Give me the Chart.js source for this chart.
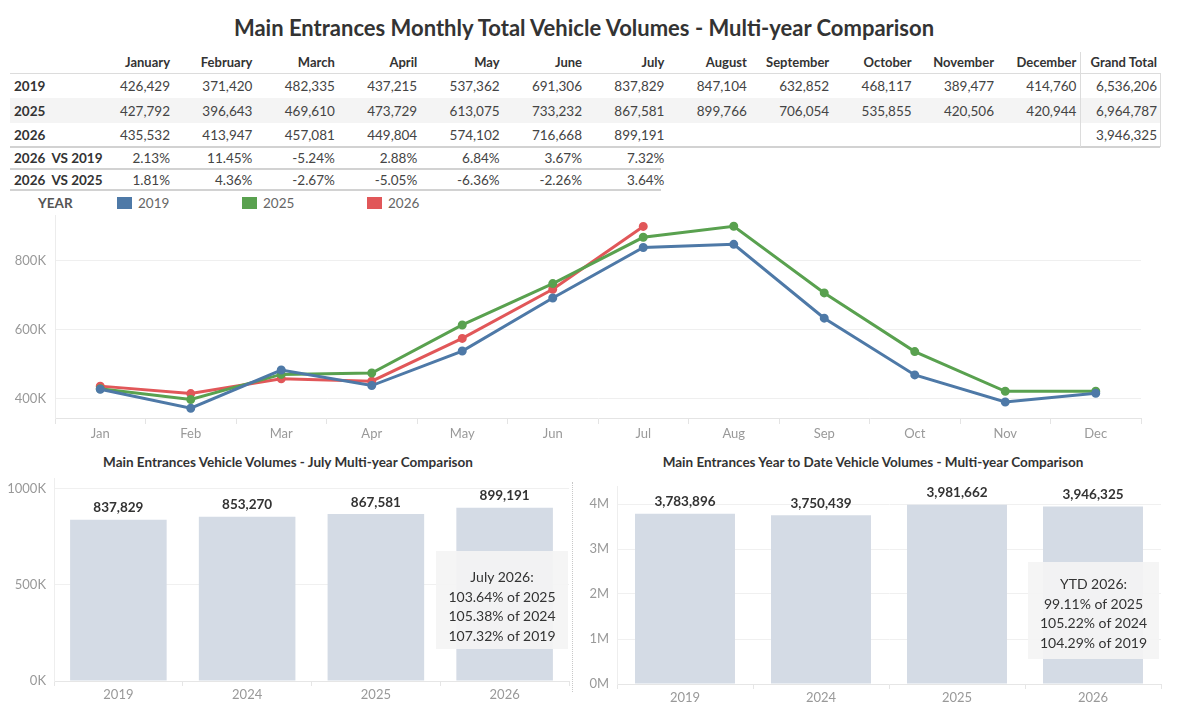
<!DOCTYPE html>
<html>
<head>
<meta charset="UTF-8">
<title>Main Entrances Vehicle Volumes</title>
<script src="https://cdn.jsdelivr.net/npm/chart.js"></script>
<style>
  *{margin:0; padding:0;}
  body{width:1200px; height:707px; background:#fff; position:relative; overflow:hidden; font-family:Lato, "Open Sans", sans-serif; color:#333;}
  .abs{position:absolute;}
  #title{position:absolute; left:0; width:1168px; top:14px; text-align:center; font-size:22px; font-weight:bold; color:#333;}
  .cell{position:absolute; white-space:nowrap; font-size:13.5px; color:#444; text-align:right; line-height:16px;}
  .hdr{font-weight:bold; color:#333; font-size:13px;}
  .rowlbl{font-weight:bold; color:#333; text-align:left;}
  .line{position:absolute; background:#ddd;}
  .legend{position:absolute; top:195px; font-size:13.5px; color:#666;}
  .sub{position:absolute; top:454px; font-size:13.5px; font-weight:bold; color:#333; text-align:center;}
  .note{position:absolute; background:rgba(244,244,244,0.92); color:#333; font-size:14px; text-align:center; line-height:19.5px;}
  canvas{position:absolute;}
</style>
</head>
<body>
<div id="title">Main Entrances Monthly Total Vehicle Volumes - Multi-year Comparison</div>
<div id="table"></div>
<div id="legend"></div>
<canvas id="lineChart" width="1150" height="253" style="left:0; top:199px;"></canvas>

<div class="sub" style="left:40px; width:496px;">Main Entrances Vehicle Volumes - July Multi-year Comparison</div>
<div class="sub" style="left:620px; width:506px;">Main Entrances Year to Date Vehicle Volumes - Multi-year Comparison</div>
<canvas id="julyChart" width="575" height="244" style="left:0; top:463px;"></canvas>
<canvas id="ytdChart" width="625" height="237" style="left:575px; top:470px;"></canvas>
<div class="abs" style="left:572px; top:482px; height:210px; border-left:1px dotted #c8c8c8;"></div>
<div class="note" id="julyNote" style="left:436px; top:551px; width:132px; height:98px; padding-top:16px; box-sizing:border-box;"></div>
<div class="note" id="ytdNote" style="left:1028px; top:562px; width:131px; height:97px; padding-top:12px; box-sizing:border-box;"></div>

<script>
const months = ['Jan','Feb','Mar','Apr','May','Jun','Jul','Aug','Sep','Oct','Nov','Dec'];
const monthNames = ['January','February','March','April','May','June','July','August','September','October','November','December'];
const vol2019 = [426429,371420,482335,437215,537362,691306,837829,847104,632852,468117,389477,414760];
const vol2025 = [427792,396643,469610,473729,613075,733232,867581,899766,706054,535855,420506,420944];
const vol2026 = [435532,413947,457081,449804,574102,716668,899191];
const grandTotals = [6536206,6964787,3946325];
const pctVs2019 = ['2.13%','11.45%','-5.24%','2.88%','6.84%','3.67%','7.32%'];
const pctVs2025 = ['1.81%','4.36%','-2.67%','-5.05%','-6.36%','-2.26%','3.64%'];
const lineTicks = [400000,600000,800000];

const barYears = ['2019','2024','2025','2026'];
const julyVolumes = [837829,853270,867581,899191];
const ytdVolumes = [3783896,3750439,3981662,3946325];
const julyTicks = [0,500000,1000000];
const ytdTicks = [0,1000000,2000000,3000000,4000000];
const julyNotes = ['July 2026:','103.64% of 2025','105.38% of 2024','107.32% of 2019'];
const ytdNotes = ['YTD 2026:','99.11% of 2025','105.22% of 2024','104.29% of 2019'];

const seriesNames = ['2019','2025','2026'];
const seriesColors = ['#4e79a7','#59a14f','#e15759'];
const barColor = '#d4dbe5';

const fmt = v => v.toLocaleString('en-US');

// ---------- table ----------
const tbl = document.getElementById('table');
function addCell(txt, right, y, cls){
  const d = document.createElement('div');
  d.className = 'cell ' + (cls||'');
  d.textContent = txt;
  d.style.right = (1200 - right) + 'px';
  d.style.top = (y - 8) + 'px';
  tbl.appendChild(d);
}
function addLine(x, y, w, h, col){
  const d = document.createElement('div');
  d.className = 'line';
  d.style.left = x+'px'; d.style.top = y+'px'; d.style.width = w+'px'; d.style.height = h+'px';
  if(col) d.style.background = col;
  tbl.appendChild(d);
}
addLine(10, 98, 1150, 25, '#f4f4f4');
addLine(10, 73, 1150, 1, '#dcdcdc');
addLine(10, 146, 1150, 2, '#d2d2d2');
addLine(10, 168, 651, 2, '#d2d2d2');
addLine(10, 189, 651, 2, '#d2d2d2');
addLine(1080, 52, 1, 95, '#dcdcdc');
addLine(1160, 73, 1, 74, '#dcdcdc');

const colRight = i => 170 + 82.4 * i;
monthNames.forEach((m,i) => addCell(m, colRight(i), 62, 'hdr'));
addCell('Grand Total', 1157, 62, 'hdr');

const rows = [
  {label:'2019', y:86, vals:vol2019.map(fmt), total:fmt(grandTotals[0])},
  {label:'2025', y:111, vals:vol2025.map(fmt), total:fmt(grandTotals[1])},
  {label:'2026', y:135, vals:vol2026.map(fmt), total:fmt(grandTotals[2])},
  {label:'2026  VS 2019', y:158, vals:pctVs2019},
  {label:'2026  VS 2025', y:180, vals:pctVs2025}
];
rows.forEach(r => {
  const d = document.createElement('div');
  d.className = 'cell rowlbl';
  d.textContent = r.label;
  d.style.left = '14px'; d.style.top = (r.y-8)+'px';
  d.style.whiteSpace = 'pre';
  tbl.appendChild(d);
  r.vals.forEach((v,i) => addCell(v, colRight(i), r.y));
  if(r.total) addCell(r.total, 1157, r.y);
});

// ---------- legend ----------
const lg = document.getElementById('legend');
let html = '<div class="legend" style="left:38px; font-weight:bold; color:#555;">YEAR</div>';
seriesNames.forEach((n,i) => {
  const x = 117 + 125*i;
  html += '<div class="abs" style="left:'+x+'px; top:197px; width:15px; height:12px; background:'+seriesColors[i]+';"></div>';
  html += '<div class="legend" style="left:'+(x+21)+'px;">'+n+'</div>';
});
lg.innerHTML = html;

// ---------- charts ----------
Chart.defaults.font.family = 'Lato, "Open Sans", sans-serif';
Chart.defaults.animation = false;

const kFmt = v => Math.round(v/1000) + 'K';

new Chart(document.getElementById('lineChart'), {
  type: 'line',
  data: {
    labels: months,
    datasets: [vol2019, vol2025, vol2026].map((d,i) => ({
      label: seriesNames[i], data: d,
      borderColor: seriesColors[i], backgroundColor: seriesColors[i],
      borderWidth: 3, pointRadius: 3, pointHoverRadius: 3, tension: 0
    }))
  },
  options: {
    responsive: false,
    layout: {padding: {top: 7, right: 9, left: 0, bottom: 0}},
    plugins: {legend: {display: false}, tooltip: {enabled: false}},
    scales: {
      x: {
        offset: true,
        grid: {offset: true, drawOnChartArea: false, tickLength: 6, color: '#e4e4e4'},
        border: {color: '#e4e4e4'},
        ticks: {color: '#999', font: {size: 13}, padding: 2},
        afterFit: s => { s.height = 34; }
      },
      y: {
        min: 343000, max: 930000,
        afterBuildTicks: s => { s.ticks = lineTicks.map(v => ({value: v})); },
        grid: {color: '#efefef', drawTicks: false},
        border: {color: '#ececec'},
        ticks: {color: '#999', font: {size: 13}, padding: 9, callback: kFmt},
        afterFit: s => { s.width = 55; }
      }
    }
  }
});

// value labels over bars
const barLabels = {
  id: 'barLabels',
  afterDatasetsDraw(chart){
    const ctx = chart.ctx;
    const meta = chart.getDatasetMeta(0);
    ctx.save();
    ctx.font = 'bold 13.5px Lato, "Open Sans", sans-serif';
    ctx.fillStyle = '#333';
    ctx.textAlign = 'center';
    ctx.textBaseline = 'bottom';
    meta.data.forEach((bar, i) => {
      ctx.fillText(fmt(chart.data.datasets[0].data[i]), bar.x, bar.y - 5);
    });
    ctx.restore();
  }
};

function barChart(id, values, ticks, max, tickFmt, yWidth, pad, xHeight, barPct){
  return new Chart(document.getElementById(id), {
    type: 'bar',
    data: {labels: barYears, datasets: [{data: values, backgroundColor: barColor, barPercentage: barPct, categoryPercentage: 1}]},
    options: {
      responsive: false,
      layout: {padding: pad},
      plugins: {legend: {display: false}, tooltip: {enabled: false}},
      scales: {
        x: {
          grid: {offset: true, drawOnChartArea: false, tickLength: 5, color: '#e6e6e6'},
          border: {color: '#e6e6e6'},
          ticks: {color: '#999', font: {size: 13}, padding: 1},
          afterFit: s => { s.height = xHeight; }
        },
        y: {
          min: 0, max: max,
          afterBuildTicks: s => { s.ticks = ticks.map(v => ({value: v})); },
          grid: {color: '#f0f0f0', drawTicks: false},
          border: {color: '#eeeeee'},
          ticks: {color: '#999', font: {size: 13}, padding: 8, callback: tickFmt},
          afterFit: s => { s.width = yWidth; }
        }
      }
    },
    plugins: [barLabels]
  });
}

barChart('julyChart', julyVolumes, julyTicks, 1050000, kFmt, 54, {top: 8, right: 6, left: 0, bottom: 0}, 26, 0.75);
barChart('ytdChart', ytdVolumes, ytdTicks, 4400000, v => (v/1000000) + 'M', 42, {top: 16, right: 39, left: 0, bottom: 0}, 23, 0.735);

document.getElementById('julyNote').innerHTML = julyNotes.join('<br>');
document.getElementById('ytdNote').innerHTML = ytdNotes.join('<br>');
</script>
</body>
</html>
